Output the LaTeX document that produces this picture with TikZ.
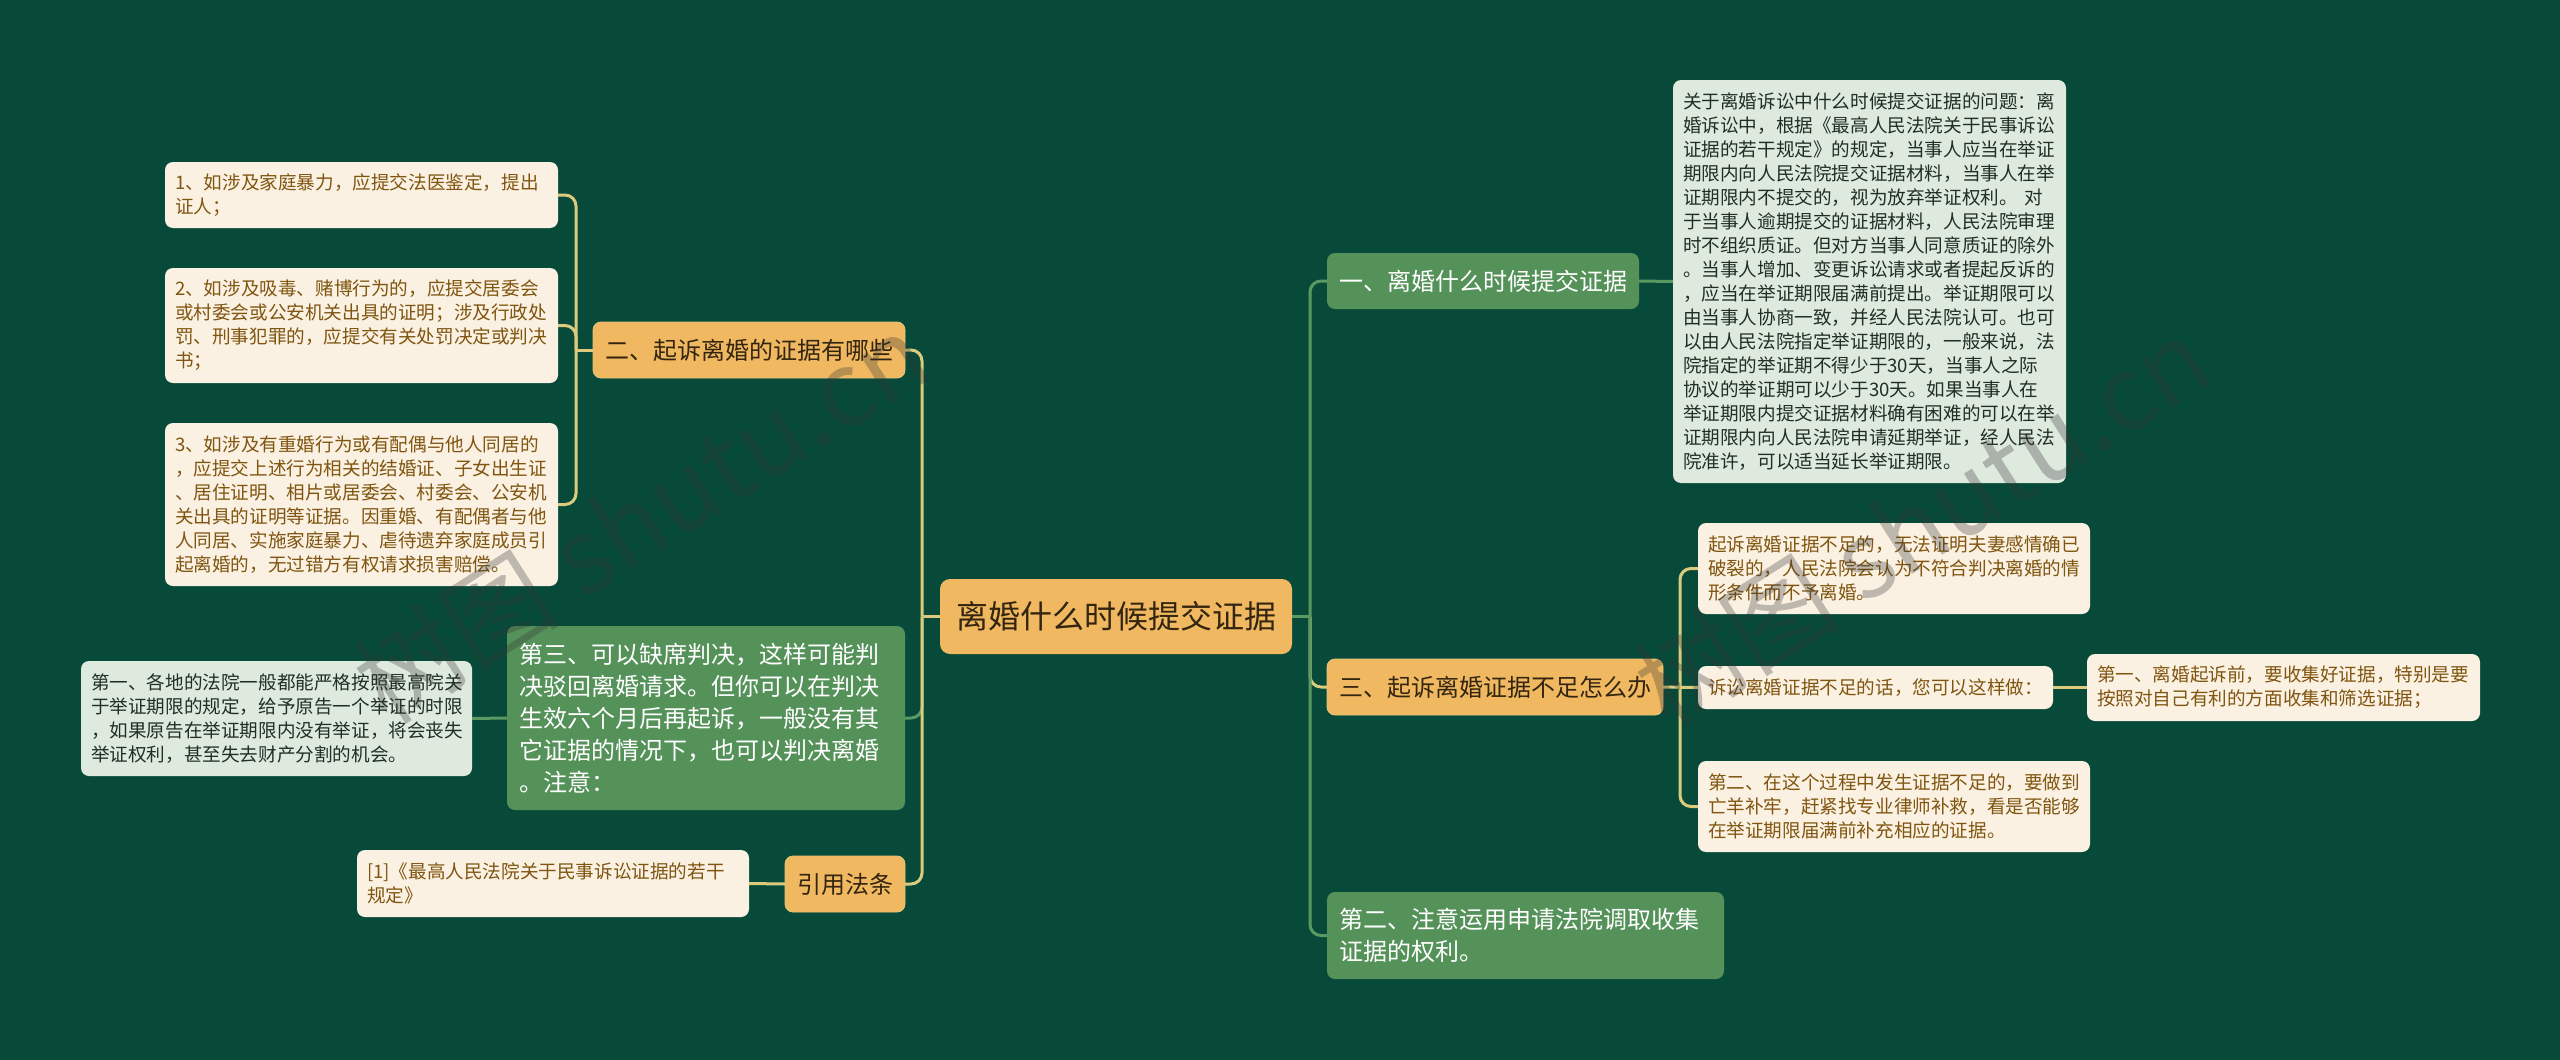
\documentclass[tikz,border=0pt]{standalone}
\usepackage{fontspec}
\setmainfont{Noto Sans CJK SC}
\definecolor{bgc}{HTML}{084A3A}
\definecolor{orangec}{HTML}{F0B860}
\definecolor{orangeedge}{HTML}{E9C67A}
\definecolor{greenc}{HTML}{55925A}
\definecolor{creamc}{HTML}{FBF1E2}
\definecolor{palec}{HTML}{DFEADF}
\definecolor{creamtext}{HTML}{7F5510}
\definecolor{paletext}{HTML}{1F2F25}
\definecolor{darktext}{HTML}{33250F}
\definecolor{linegreen}{HTML}{5A9A62}
\definecolor{lineyellow}{HTML}{DCCB7C}
\definecolor{markc}{HTML}{333333}
\tikzset{
  every node/.style={inner ysep=0pt, outer sep=0pt, anchor=north west, rounded corners=8pt},
  sized/.style 2 args={minimum width=#1pt, minimum height=#2pt},
  rootbox/.style={fill=orangec, text=darktext, align=center, inner xsep=0pt, rounded corners=10pt, font=\fontsize{32}{40}\selectfont},
  orangebox/.style={fill=orangec, draw=orangeedge, line width=.8pt, text=darktext, align=center, inner xsep=0pt, font=\fontsize{24}{32}\selectfont},
  greenbox/.style={fill=greenc, text=white, align=center, inner xsep=0pt, font=\fontsize{24}{32}\selectfont},
  greenwide/.style 2 args={fill=greenc, text=white, align=left, inner xsep=12pt, sized={#1}{#2}, text width=#1pt-24pt, font=\fontsize{24}{32}\selectfont},
  creambox/.style 2 args={fill=creamc, text=creamtext, align=left, inner xsep=10pt, sized={#1}{#2}, text width=#1pt-20pt, font=\fontsize{18.6}{24}\selectfont},
  palebox/.style 2 args={fill=palec, text=paletext, align=left, inner xsep=10pt, sized={#1}{#2}, text width=#1pt-20pt, font=\fontsize{18.6}{24}\selectfont},
  ylink/.style={draw=lineyellow, line width=3pt, rounded corners=11pt},
  glink/.style={draw=linegreen, line width=3pt, rounded corners=11pt},
  watermark/.style={anchor=base west, rotate=32.5, text=markc, opacity=.3, text opacity=.3, inner sep=0pt, font=\fontsize{104}{110}\selectfont}
}
\begin{document}
\begin{tikzpicture}[x=1pt,y=-1pt]
\useasboundingbox (0,0) rectangle (2560,1060);
\fill[bgc] (0,0) rectangle (2560,1060);

% nodes
\node[rootbox, sized={352}{75}] (root) at (940,579) {离婚什么时候提交证据};

\node[greenbox, sized={312}{56}] (r1) at (1327,253) {一、离婚什么时候提交证据};
\node[palebox={393}{403}] (r1d) at (1673,80) {关于离婚诉讼中什么时候提交证据的问题：离\\婚诉讼中，根据《最高人民法院关于民事诉讼\\证据的若干规定》的规定，当事人应当在举证\\期限内向人民法院提交证据材料，当事人在举\\证期限内不提交的，视为放弃举证权利。 对\\于当事人逾期提交的证据材料，人民法院审理\\时不组织质证。但对方当事人同意质证的除外\\。当事人增加、变更诉讼请求或者提起反诉的\\，应当在举证期限届满前提出。举证期限可以\\由当事人协商一致，并经人民法院认可。也可\\以由人民法院指定举证期限的，一般来说，法\\院指定的举证期不得少于30天，当事人之际\\协议的举证期可以少于30天。如果当事人在\\举证期限内提交证据材料确有困难的可以在举\\证期限内向人民法院申请延期举证，经人民法\\院准许，可以适当延长举证期限。};

\node[orangebox, sized={336}{56}] (r2) at (1327,659) {三、起诉离婚证据不足怎么办};
\node[creambox={392}{91}] (r2a) at (1698,523) {起诉离婚证据不足的，无法证明夫妻感情确已\\破裂的，人民法院会认为不符合判决离婚的情\\形条件而不予离婚。};
\node[creambox={355}{43}] (r2b) at (1698,666) {诉讼离婚证据不足的话，您可以这样做：};
\node[creambox={393}{67}] (r2b1) at (2087,654) {第一、离婚起诉前，要收集好证据，特别是要\\按照对自己有利的方面收集和筛选证据；};
\node[creambox={392}{91}] (r2c) at (1698,761) {第二、在这个过程中发生证据不足的，要做到\\亡羊补牢，赶紧找专业律师补救，看是否能够\\在举证期限届满前补充相应的证据。};

\node[greenwide={397}{87}] (r3) at (1327,892) {第二、注意运用申请法院调取收集\\证据的权利。};

\node[orangebox, sized={312}{56}] (l1) at (593,322) {二、起诉离婚的证据有哪些};
\node[creambox={393}{66}] (l1a) at (165,162) {1、如涉及家庭暴力，应提交法医鉴定，提出\\证人；};
\node[creambox={393}{115}] (l1b) at (165,268) {2、如涉及吸毒、赌博行为的，应提交居委会\\或村委会或公安机关出具的证明；涉及行政处\\罚、刑事犯罪的，应提交有关处罚决定或判决\\书；};
\node[creambox={393}{163}] (l1c) at (165,423) {3、如涉及有重婚行为或有配偶与他人同居的\\，应提交上述行为相关的结婚证、子女出生证\\、居住证明、相片或居委会、村委会、公安机\\关出具的证明等证据。因重婚、有配偶者与他\\人同居、实施家庭暴力、虐待遗弃家庭成员引\\起离婚的，无过错方有权请求损害赔偿。};

\node[greenwide={398}{184}] (l2) at (507,626) {第三、可以缺席判决，这样可能判\\决驳回离婚请求。但你可以在判决\\生效六个月后再起诉，一般没有其\\它证据的情况下，也可以判决离婚\\。注意：};
\node[palebox={391}{115}] (l2a) at (81,661) {第一、各地的法院一般都能严格按照最高院关\\于举证期限的规定，给予原告一个举证的时限\\，如果原告在举证期限内没有举证，将会丧失\\举证权利，甚至失去财产分割的机会。};

\node[orangebox, sized={120}{56}] (l3) at (785,856) {引用法条};
\node[creambox={392}{67}] (l3a) at (357,850) {[1]《最高人民法院关于民事诉讼证据的若干\\规定》};

% junction points
\coordinate (jl) at (922,616.5);
\coordinate (jr) at (1310,616.5);
\coordinate (jc) at (576,350);
\coordinate (jd) at (1680,687);

% connectors
\draw[ylink] (root.west) -- (jl);
\draw[glink] (jl) |- (l2.east);
\draw[ylink] (jl) |- (l1.east);
\draw[ylink] (jl) |- (l3.east);
\draw[ylink] (l1.west) -- (jc);
\draw[ylink] (jc) |- (l1a.east);
\draw[ylink] (jc) |- (l1b.east);
\draw[ylink] (jc) |- (l1c.east);
\draw[glink] (l2.west) -- (l2a.east);
\draw[ylink] (l3.west) -- (l3a.east);

\draw[ylink] (jr) |- (r2.west);
\draw[glink] (root.east) -- (jr);
\draw[glink] (jr) |- (r1.west);
\draw[glink] (jr) |- (r3.west);
\draw[glink] (r1.east) -- (r1d.west);
\draw[ylink] (r2.east) -- (r2b.west);
\draw[ylink] (jd) |- (r2a.west);
\draw[ylink] (jd) |- (r2c.west);
\draw[ylink] (r2b.east) -- (r2b1.west);

% watermark
\node[watermark] (wm1) at (387,726) {树图 shutu.cn};
\node[watermark] (wm2) at (1668,730) {树图 shutu.cn};
\end{tikzpicture}
\end{document}
